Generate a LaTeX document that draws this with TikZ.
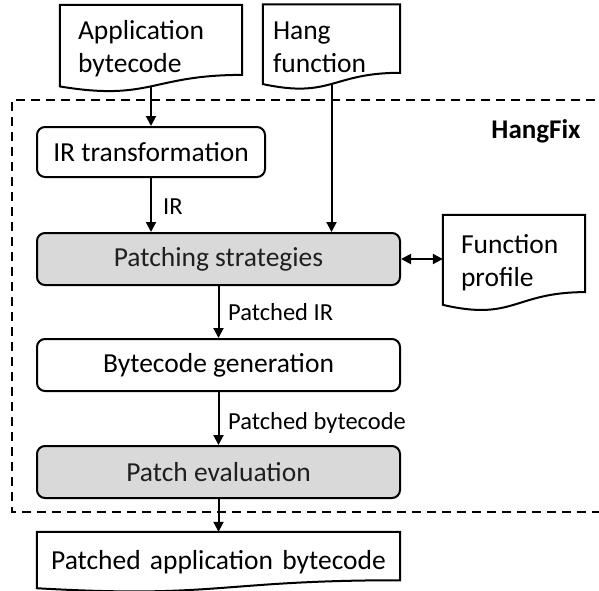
\documentclass[tikz,border=0pt]{standalone}
\usepackage{fontspec}
\setmainfont{Carlito}
\usetikzlibrary{arrows.meta,calc}
\tikzset{
 proc/.style={draw, line width=2pt, rounded corners=8pt, minimum width=363pt, minimum height=52pt, inner sep=0pt, font=\fontsize{27.5}{33}\selectfont},
 hl/.style={fill=black!15, text=black!88},
 docnode/.style={inner ysep=0pt, fill=white, font=\fontsize{27.5}{33}\selectfont, align=left},
 docline/.style={line width=2pt, line join=miter},
 lbl/.style={anchor=west, inner sep=0pt, font=\fontsize{24.5}{29}\selectfont},
 arr/.style={line width=2pt, -{Triangle[length=10pt,width=10pt]}},
 darr/.style={line width=2pt, {Triangle[length=10pt,width=10pt]}-{Triangle[length=10pt,width=10pt]}},
 frame/.style={line width=1.8pt, dash pattern=on 9pt off 6pt},
}
\newcommand\docoutline[1]{%
 \draw[docline] (#1.north west) -- (#1.north east) -- ($(#1.north east)!0.802!(#1.south east)$) .. controls ($(#1.north)!0.802!(#1.south)$) and ($(#1.north)!1.107!(#1.south)$) .. ($(#1.north west)!0.934!(#1.south west)$) -- cycle;}
\begin{document}
\begin{tikzpicture}[x=1pt,y=-1pt]
\useasboundingbox (0,0) rectangle (599,590);
% dashed frame
\draw[frame] (610,100) -- (12,100) -- (12,512) -- (610,512);
\node[font=\bfseries\fontsize{27}{32}\selectfont] (hf) at (536,131) {HangFix};
% documents
\node[docnode, minimum width=182pt, minimum height=87pt, text width=146pt, inner xsep=18pt] (appdoc) at (151,48.5) {Application\\bytecode};
\docoutline{appdoc}
\node[docnode, minimum width=137pt, minimum height=85pt, text width=117pt, inner xsep=10pt] (hangdoc) at (331.5,47) {Hang\\function};
\docoutline{hangdoc}
\node[docnode, minimum width=142pt, minimum height=96pt, text width=106pt, inner xsep=18pt] (fprof) at (514,263) {Function\\profile};
\docoutline{fprof}
\node[docnode, align=center, minimum width=363pt, minimum height=60pt, text width=347pt, inner xsep=8pt] (final) at (218.5,562) {Patched application bytecode};
\docoutline{final}
% process boxes
\node[proc, fill=white, minimum width=228pt, minimum height=50pt] (irt) at (151,152) {IR transformation};
\node[proc, hl] (patch) at (218.5,259) {Patching strategies};
\node[proc, fill=white] (bcg) at (218.5,365) {Bytecode generation};
\node[proc, hl] (peval) at (218.5,472) {Patch evaluation};
% connectors
\coordinate (appout) at ($(appdoc.north)!0.933!(appdoc.south)$);
\coordinate (hangout) at ($(hangdoc.north)!0.933!(hangdoc.south)$);
\draw[arr] (appout) -- (irt.north);
\draw[arr] (irt.south) -- (irt.south |- patch.north);
\draw[arr] (hangout) -- (hangout |- patch.north);
\draw[darr] (patch.east) -- (patch.east -| fprof.west);
\draw[arr] (patch.south) -- (bcg.north);
\draw[arr] (bcg.south) -- (peval.north);
\draw[arr] (peval.south) -- (final.north);
% labels
\node[lbl] (lir) at (163,207) {IR};
\node[lbl] (lpir) at (228,312) {Patched IR};
\node[lbl] (lpbc) at (228,423) {Patched bytecode};
\end{tikzpicture}
\end{document}
